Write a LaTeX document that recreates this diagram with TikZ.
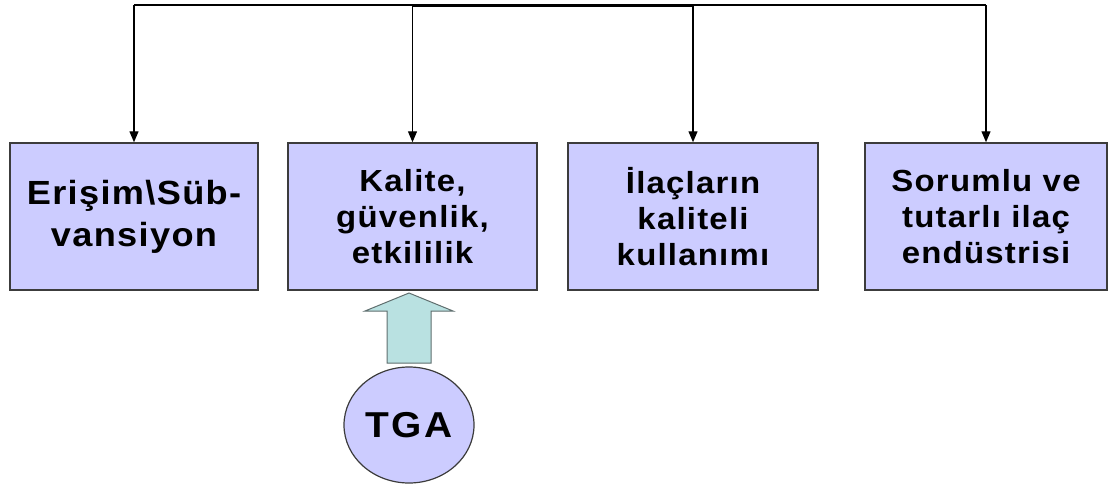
\documentclass[tikz,border=0pt]{standalone}
\usepackage{fontspec}
\setmainfont{Liberation Sans}[LetterSpace=4,FakeStretch=1.08]
\usetikzlibrary{arrows.meta,shapes.geometric}
\definecolor{boxfill}{RGB}{204,204,255}
\definecolor{arrowfill}{RGB}{185,225,225}
\definecolor{arrowline}{RGB}{95,110,110}
\definecolor{edge}{RGB}{60,60,60}
\tikzset{
  stepbox/.style={draw=edge, line width=1.5pt, fill=boxfill, rectangle,
    minimum height=147pt, inner sep=0pt, align=center,
    font=\fontsize{30.5}{36}\selectfont\bfseries},
  conn/.style={draw=black, line width=1.3pt, -{Triangle[width=9pt,length=11pt]}},
}
\begin{document}
\begin{tikzpicture}[x=1pt,y=-1pt]
\useasboundingbox (0,0) rectangle (1108,485);
\node[stepbox, minimum width=248pt, font=\fontsize{33.5}{42}\selectfont\bfseries] (b1) at (134,216.5) {Erişim\textbackslash Süb-\\vansiyon};
\node[stepbox, minimum width=249pt] (b2) at (412.5,216.5) {Kalite,\\güvenlik,\\etkililik};
\node[stepbox, minimum width=250pt] (b3) at (693,216.5) {İlaçların\\kaliteli\\kullanımı};
\node[stepbox, minimum width=242pt] (b4) at (986,216.5) {Sorumlu ve\\tutarlı ilaç\\endüstrisi};
\coordinate (top) at (0,5);
\coordinate (top2) at (0,6.5);
\draw[line width=1.3pt, line join=miter] (b1.north |- top) -- (b4.north |- top);
\draw[line width=1.3pt] (b2.north |- top2) -- (b3.north |- top2);
\draw[conn] (b1.north |- top) -- (b1.north);
\draw[conn] (b2.north |- top) -- (b2.north);
\draw[conn] (b3.north |- top) -- (b3.north);
\draw[conn] (b4.north |- top) -- (b4.north);
\node[draw=edge, line width=1.2pt, fill=boxfill, ellipse, minimum width=130pt, minimum height=116pt, inner sep=0pt,
  font=\fontsize{36}{40}\selectfont\bfseries\addfontfeature{LetterSpace=8}] (tga) at (409,425) {TGA};
\draw[draw=arrowline, line width=1pt, fill=arrowfill, line join=miter]
  (387,363) -- (431,363) -- (431,311) -- (453,311) -- (409,293) -- (365,311) -- (387,311) -- cycle;
\end{tikzpicture}
\end{document}
